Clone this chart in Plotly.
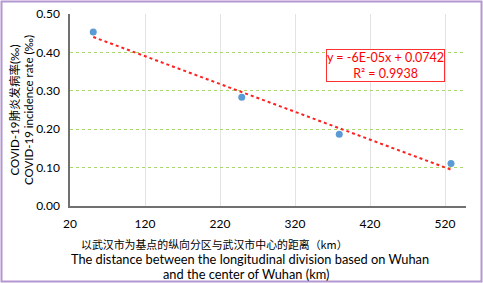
import numpy as np
import plotly.graph_objects as go

# Data
distance_km = [51, 249, 379, 528]
incidence_rate = [0.453, 0.283, 0.187, 0.111]
x_tick_vals = [20, 120, 220, 320, 420, 520]
y_tick_vals = [0.0, 0.1, 0.2, 0.3, 0.4, 0.5]
equation_text = "y = -6E-05x + 0.0742<br>R² = 0.9938"
y_title = "COVID-19肺炎发病率(‰)<br>COVID-19 incidence rate (‰)"
x_title_cn = "以武汉市为基点的纵向分区与武汉市中心的距离（km）"
x_title_en1 = "The distance between the longitudinal division based on Wuhan"
x_title_en2 = "and the center of Wuhan (km)"

W, H = 483, 283
L, R, T, B = 70, 466, 14, 206  # plot area in px


def px_x(p):
    return (p - L) / (R - L)


def px_y(p):
    return (B - p) / (B - T)


slope, intercept = np.polyfit(distance_km, incidence_rate, 1)
trend_x = [min(distance_km), max(distance_km)]
trend_y = [slope * v + intercept for v in trend_x]

font_main = "Lato, 'Noto Sans CJK SC', sans-serif"

fig = go.Figure()
fig.add_trace(go.Scatter(x=trend_x, y=trend_y, mode="lines",
                         line=dict(color="#ff2020", width=2, dash="dot"),
                         hoverinfo="skip", showlegend=False))
fig.add_trace(go.Scatter(x=distance_km, y=incidence_rate, mode="markers",
                         marker=dict(color="#5b9bd5", size=7),
                         showlegend=False))
# empty helper trace so the title-carrying axis is drawn
fig.add_trace(go.Scatter(x=[], y=[], yaxis="y2", showlegend=False, hoverinfo="skip"))

fig.update_layout(
    width=W, height=H,
    margin=dict(l=L, r=W - R, t=T, b=H - B, autoexpand=False),
    paper_bgcolor="white", plot_bgcolor="white",
    font=dict(family=font_main, size=12, color="#000000"),
    xaxis=dict(range=[20, 548], tickvals=x_tick_vals, ticktext=[str(v) for v in x_tick_vals],
               showgrid=True, gridcolor="#e3e3e3", gridwidth=1,
               showline=True, linecolor="#707070", linewidth=1.5,
               zeroline=False, ticks="", tickfont=dict(size=12, family=font_main),
               ticklabelstandoff=6),
    yaxis=dict(range=[0, 0.5], tickvals=y_tick_vals, ticktext=[f"{v:.2f}" for v in y_tick_vals],
               showgrid=True, gridcolor="#a8d86a", gridwidth=1, griddash="dot",
               showline=True, linecolor="#707070", linewidth=1.5,
               zeroline=False, ticks="", tickfont=dict(size=12, family=font_main),
               ticklabelstandoff=6),
    yaxis2=dict(overlaying="y", anchor="free", position=0, side="left",
                range=[0, 0.5], showticklabels=False, showgrid=False, showline=False,
                zeroline=False, ticks="",
                title=dict(text=y_title, font=dict(size=11.5, family=font_main), standoff=32)),
)

# x-axis title
fig.add_annotation(xref="paper", yref="paper", x=px_x(214), y=px_y(244),
                   text=x_title_cn, showarrow=False,
                   font=dict(size=10.9, family="'Noto Sans CJK SC', sans-serif"),
                   xanchor="center", yanchor="middle")
fig.add_annotation(xref="paper", yref="paper", x=px_x(250), y=px_y(259),
                   text=x_title_en1, showarrow=False,
                   font=dict(size=12.8, family=font_main),
                   xanchor="center", yanchor="middle")
fig.add_annotation(xref="paper", yref="paper", x=px_x(246), y=px_y(273.5),
                   text=x_title_en2, showarrow=False,
                   font=dict(size=12.8, family=font_main),
                   xanchor="center", yanchor="middle")

# trendline equation box
fig.add_annotation(xref="paper", yref="paper", x=px_x(385), y=px_y(65),
                   text=equation_text, showarrow=False,
                   font=dict(size=12.5, family=font_main, color="#ff0000"),
                   bordercolor="#ff3030", borderwidth=1, borderpad=0,
                   bgcolor="white", xanchor="center", yanchor="middle")

# outer chart border
fig.add_shape(type="rect", xref="paper", yref="paper",
              x0=px_x(1.5), x1=px_x(481.5), y0=px_y(281.5), y1=px_y(1.5),
              line=dict(color="#b497d0", width=2), layer="above")

fig.write_html("out.html", config={"displayModeBar": False},
               post_script="document.body.style.margin='0';document.body.style.overflow='hidden';")
